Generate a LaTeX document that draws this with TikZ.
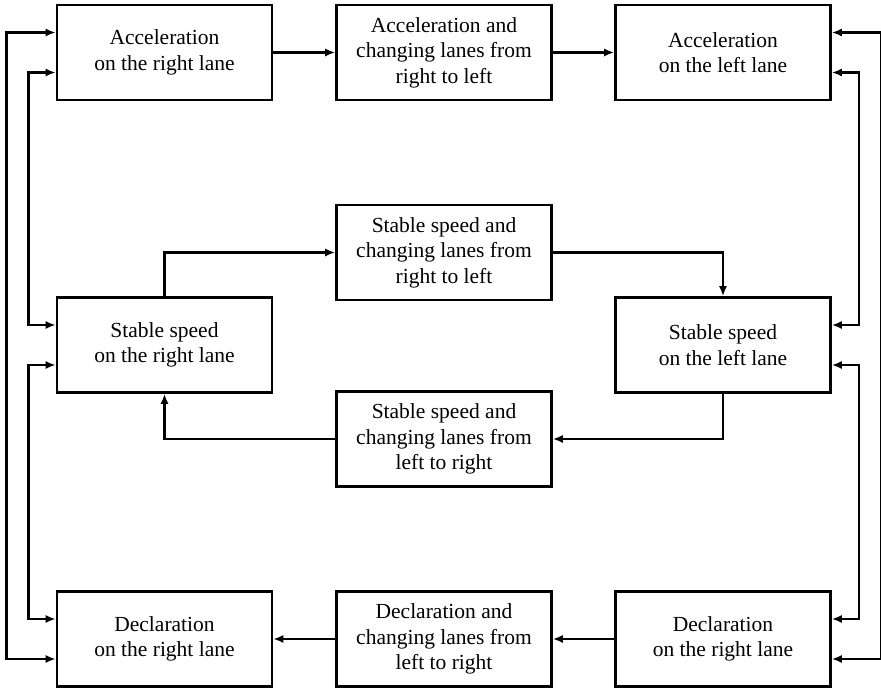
\documentclass[tikz,border=0pt]{standalone}
\usepackage{fontspec}
\setmainfont{Liberation Serif}
\usetikzlibrary{arrows.meta}
\begin{document}
\begin{tikzpicture}[x=1pt,y=-1pt,
  state/.style={draw, line width=2.6pt, minimum width=215pt, minimum height=95pt,
    align=center, inner sep=2pt, font=\fontsize{21.5}{25.5}\selectfont},
  conn/.style={line width=2.6pt, -{Latex[length=10pt,width=8pt]}},
  biconn/.style={line width=2.6pt, {Latex[length=10pt,width=8pt]}-{Latex[length=10pt,width=8pt]}}]
\useasboundingbox (0,0) rectangle (881,690);
% left column
\node[state] (accR) at (164.5,52.5) {Acceleration\\on the right lane};
\node[state] (stbR) at (164.5,345) {Stable speed\\on the right lane};
\node[state] (decR) at (164.5,639) {Declaration\\on the right lane};
% middle column
\node[state] (accRL) at (444,52.5) {Acceleration and\\changing lanes from\\right to left};
\node[state] (stbRL) at (444,252.5) {Stable speed and\\changing lanes from\\right to left};
\node[state] (stbLR) at (444,439) {Stable speed and\\changing lanes from\\left to right};
\node[state] (decLR) at (444,639) {Declaration and\\changing lanes from\\left to right};
% right column
\node[state] (accL) at (723,52.5) {Acceleration\\on the left lane};
\node[state] (stbL) at (723,345) {Stable speed\\on the left lane};
\node[state] (decL) at (723,639) {Declaration\\on the right lane};
% horizontal flows
\draw[conn] (accR) -- (accRL);
\draw[conn] (accRL) -- (accL);
\draw[conn] (decL) -- (decLR);
\draw[conn] (decLR) -- (decR);
% middle loop
\draw[conn] (stbR.north) |- (stbRL.west);
\draw[conn] (stbRL.east) -| (stbL.north);
\draw[conn] (stbL.south) |- (stbLR.east);
\draw[conn] (stbLR.west) -| (stbR.south);
% left side links
\draw[biconn] ([yshift=20pt]accR.west) -- ++(-49,0) |- ([yshift=-20pt]decR.west);
\draw[biconn] ([yshift=-20pt]accR.west) -- ++(-27,0) |- ([yshift=20pt]stbR.west);
\draw[biconn] ([yshift=-20pt]stbR.west) -- ++(-27,0) |- ([yshift=20pt]decR.west);
% right side links
\draw[biconn] ([yshift=20pt]accL.east) -- ++(49,0) |- ([yshift=-20pt]decL.east);
\draw[biconn] ([yshift=-20pt]accL.east) -- ++(27,0) |- ([yshift=20pt]stbL.east);
\draw[biconn] ([yshift=-20pt]stbL.east) -- ++(27,0) |- ([yshift=20pt]decL.east);
\end{tikzpicture}
\end{document}
